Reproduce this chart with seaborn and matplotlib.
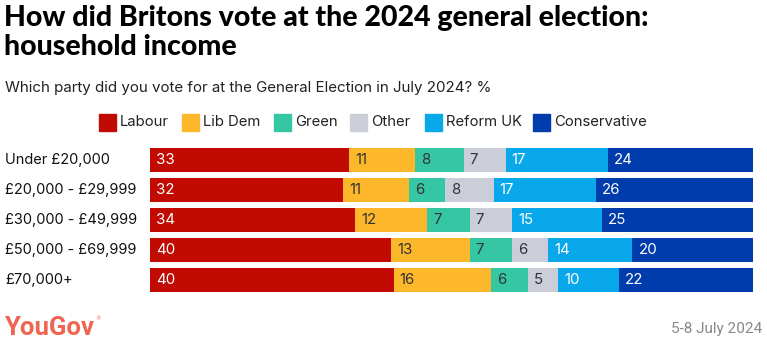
import matplotlib
matplotlib.use("Agg")
import matplotlib.pyplot as plt
import seaborn as sns
import numpy as np
import pandas as pd
from matplotlib.patches import Rectangle

categories = ["Under £20,000", "£20,000 - £29,999", "£30,000 - £49,999",
              "£50,000 - £69,999", "£70,000+"]
parties = ["Labour", "Lib Dem", "Green", "Other", "Reform UK", "Conservative"]
labour = [33, 32, 34, 40, 40]
libdem = [11, 11, 12, 13, 16]
green = [8, 6, 7, 7, 6]
other = [7, 8, 7, 6, 5]
reform = [17, 17, 15, 14, 10]
conservative = [24, 26, 25, 20, 22]
series = [labour, libdem, green, other, reform, conservative]
colors = ["#C10B02", "#FDB72B", "#35C6A3", "#CBCED8", "#09A8EA", "#003CAB"]
text_colors = ["white", "#333333", "#333333", "#333333", "white", "white"]

sns.set_theme(style="white")
plt.rcParams["font.family"] = ["Inter", "DejaVu Sans"]

W, H = 767, 343
fig = plt.figure(figsize=(W / 100, H / 100), dpi=100)

def fx(px):
    return px / W

def fy(py):
    return 1 - py / H

ax = fig.add_axes([fx(150), fy(295), fx(753) - fx(150), (295 - 145) / H])

vals = np.array(series, dtype=float)  # parties x categories
totals = vals.sum(axis=0)
shares = vals / totals * 100
cum = np.cumsum(shares, axis=0)

# Draw cumulative bars from largest to smallest so they stack visually
for i in range(len(parties) - 1, -1, -1):
    df = pd.DataFrame({"cat": categories, "val": cum[i]})
    sns.barplot(data=df, y="cat", x="val", orient="h", color=colors[i],
                width=0.83, ax=ax, saturation=1, linewidth=0)

for i in range(len(parties)):
    for j in range(len(categories)):
        start = cum[i][j] - shares[i][j]
        ax.text(start + 1.0, j, f"{series[i][j]}", va="center", ha="left",
                color=text_colors[i], fontsize=10.8)

ax.set_xlim(0, 100)
ax.set_ylim(4.5, -0.5)
ax.set_xlabel("")
ax.set_ylabel("")
ax.set_xticks([])
ax.set_yticks([])
for s in ax.spines.values():
    s.set_visible(False)

for j, c in enumerate(categories):
    fig.text(fx(5), fy(160 + 30 * j), c, ha="left", va="center",
             fontsize=10.5, color="#111111")

# Title / subtitle
title_font = ["Lato", "DejaVu Sans"]
fig.text(fx(4), fy(18), "How did Britons vote at the 2024 general election:",
         fontsize=20.5, fontweight=900, family=title_font,
         ha="left", va="center", color="black")
fig.text(fx(4), fy(47), "household income",
         fontsize=20.5, fontweight=900, family=title_font,
         ha="left", va="center", color="black")
fig.text(fx(5), fy(88), "Which party did you vote for at the General Election in July 2024? %",
         fontsize=10.9, ha="left", va="center", color="#222222")

# Legend
sq_x = [99, 182, 274, 350, 425, 533]
for i, p in enumerate(parties):
    fig.patches.append(Rectangle((fx(sq_x[i]), fy(131)), 17 / W, 17 / H,
                                 transform=fig.transFigure, color=colors[i]))
    fig.text(fx(sq_x[i] + 21), fy(122), p, ha="left", va="center",
             fontsize=10.7, color="#222222")

# Footer
fig.text(fx(4), fy(328), "YouGov", ha="left", va="center", fontsize=18.5,
         fontweight="bold", family=["Roboto", "DejaVu Sans"], color="#EF6554")
fig.text(fx(95.5), fy(318.5), "®", ha="left", va="center", fontsize=4,
         family=["DejaVu Sans"], color="#EF6554")
fig.text(fx(762), fy(329), "5-8 July 2024", ha="right", va="center",
         fontsize=11, family=["Roboto", "DejaVu Sans"], color="#888888")

fig.savefig("out.png", dpi=100)
